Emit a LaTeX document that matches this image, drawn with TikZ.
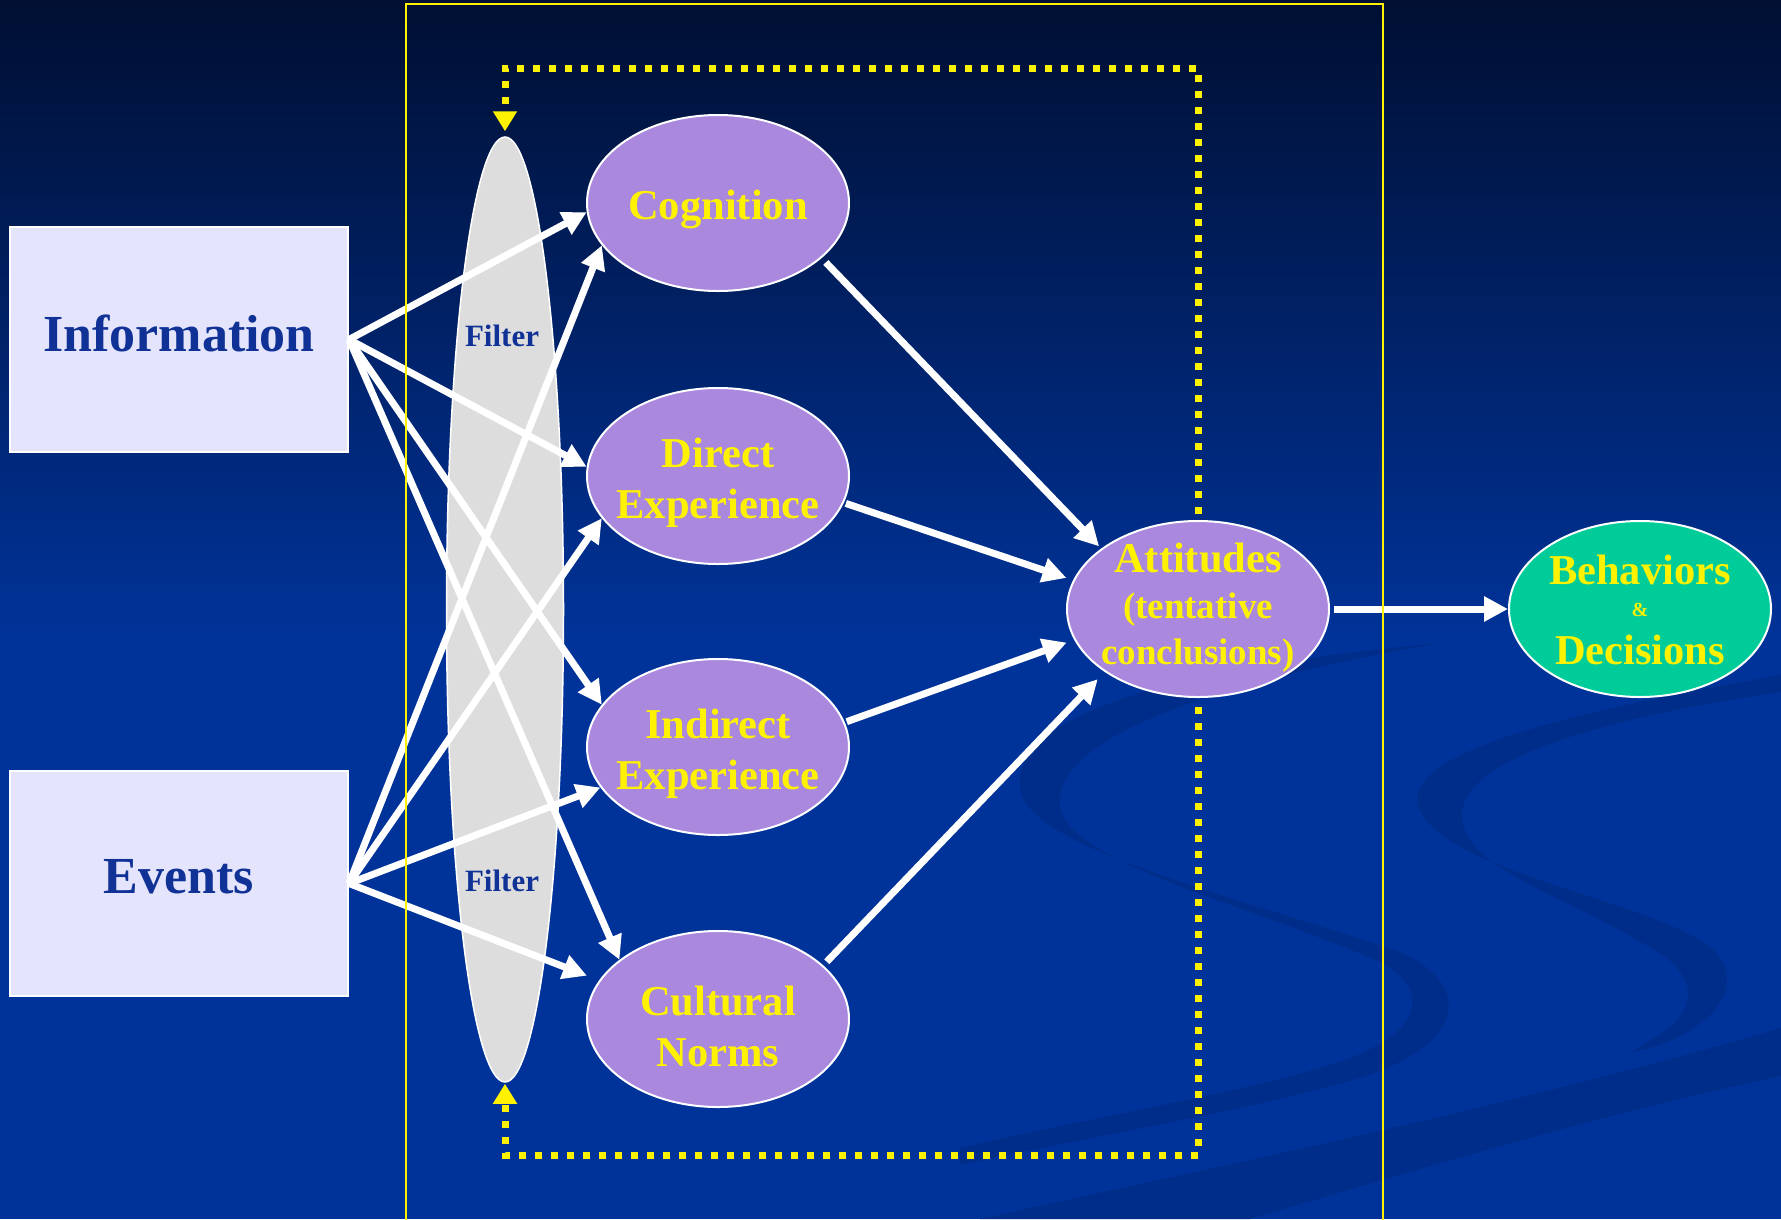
\documentclass[tikz,border=0pt]{standalone}
\usepackage{fontspec}
\setmainfont{Liberation Serif}
\usetikzlibrary{arrows.meta,shapes.geometric}

\definecolor{bgtop}{RGB}{0,15,50}
\definecolor{bgmain}{RGB}{0,51,153}
\definecolor{swirlblue}{RGB}{0,45,138}
\definecolor{lavender}{RGB}{228,228,252}
\definecolor{inkblue}{RGB}{16,50,150}
\definecolor{lilac}{RGB}{169,136,222}
\definecolor{mint}{RGB}{0,204,153}
\definecolor{filtergray}{RGB}{221,221,221}

\begin{document}
\begin{tikzpicture}[x=1pt,y=-1pt,
  srcbox/.style={rectangle, fill=lavender, draw=white, line width=2pt,
    minimum width=338pt, minimum height=225pt, inner sep=0pt},
  srctext/.style={text=inkblue, inner sep=0pt, font=\bfseries\fontsize{52}{60}\selectfont},
  stage/.style={ellipse, fill=lilac, draw=white, line width=2pt,
    minimum width=262pt, minimum height=176pt, inner sep=0pt},
  stagetext/.style={text=yellow, align=center, inner sep=0pt,
    font=\bfseries\fontsize{42.5}{51}\selectfont},
  filtertext/.style={text=inkblue, inner sep=0pt, font=\bfseries\fontsize{31}{36}\selectfont},
  flow/.style={draw=white, line width=7pt, -{Triangle[length=24pt,width=24pt]}},
  feedback/.style={draw=yellow, line width=7pt, dash pattern=on 7pt off 9pt,
    -{Triangle[length=20pt,width=23pt]}},
]
\useasboundingbox (0,0) rectangle (1781,1219);

% background
\fill[bgmain] (0,0) rectangle (1781,1219);
\shade[top color=bgtop, bottom color=bgmain] (0,0) rectangle (1781,640);

% faint swirls of the backdrop
\fill[swirlblue] (1440,643) .. controls (1150,670) and (1010,720) .. (1020,790)
  .. controls (1030,850) and (1250,900) .. (1400,952)
  .. controls (1475,985) and (1465,1045) .. (1360,1078)
  .. controls (1250,1110) and (1100,1135) .. (960,1165)
  -- (960,1148) .. controls (1100,1115) and (1250,1092) .. (1345,1060)
  .. controls (1425,1030) and (1430,990) .. (1380,962)
  .. controls (1250,905) and (1065,862) .. (1060,805)
  .. controls (1055,740) and (1200,685) .. (1440,643) -- cycle;
\fill[swirlblue] (1781,675) .. controls (1550,715) and (1405,755) .. (1418,805)
  .. controls (1435,870) and (1650,900) .. (1712,948)
  .. controls (1755,990) and (1700,1040) .. (1632,1052)
  -- (1650,1040) .. controls (1690,1020) and (1705,985) .. (1662,955)
  .. controls (1560,890) and (1460,870) .. (1462,812)
  .. controls (1465,760) and (1600,718) .. (1781,692) -- cycle;
\fill[swirlblue] (1781,1028) .. controls (1500,1110) and (1200,1170) .. (980,1219)
  -- (1250,1219) .. controls (1450,1160) and (1600,1115) .. (1781,1076) -- cycle;

% source boxes
\node[srcbox] (info) at (179,339.5) {};
\node[srctext] (infoText) at (179,333) {Information};
\node[srcbox] (events) at (179,883.5) {};
\node[srctext] (eventsText) at (179,877) {Events};

% perception filter
\node[ellipse, fill=filtergray, draw=white, line width=1.5pt,
  minimum width=117pt, minimum height=945pt, inner sep=0pt] (filter) at (505,609.5) {};
\node[filtertext] (filterTop) at (502,336) {Filter};
\node[filtertext] (filterBottom) at (502,881) {Filter};

% stages
\node[stage] (cog) at (718,203) {};
\node[stagetext] (cogText) at (718,209) {Cognition};
\node[stage] (dir) at (718,476) {};
\node[stagetext] (dirText) at (718,483) {Direct\\Experience};
\node[stage] (ind) at (718,747) {};
\node[stagetext] (indText) at (718,754) {Indirect\\Experience};
\node[stage] (cult) at (718,1019) {};
\node[stagetext] (cultText) at (718,1026) {Cultural\\Norms};
\node[stage] (att) at (1198,609) {};
\node[stagetext, font=\bfseries\fontsize{37}{46}\selectfont] (attText) at (1198,608)
  {{\fontsize{42.5}{46}\selectfont Attitudes}\\(tentative\\conclusions)};
\node[stage, fill=mint] (beh) at (1640,609) {};
\node[stagetext] (behText) at (1640,610)
  {Behaviors\\[-19pt]{\fontsize{20}{20}\selectfont\&}\\[-3pt]Decisions};

% inputs through the filter
\draw[flow] (info.east) -- (cog.184);
\draw[flow] (info.east) -- (dir.176);
\draw[flow] (info.east) -- (ind.160);
\draw[flow] (info.east) -- (cult.149);
\draw[flow] (events.east) -- (cog.200);
\draw[flow] (events.east) -- (dir.200);
\draw[flow] (events.east) -- (ind.199);
\draw[flow, shorten >=13pt] (events.east) -- (cult.162);

% stages feeding attitudes
\draw[flow, shorten <=6pt, shorten >=3pt] (cog.332) -- (att.148);
\draw[flow, shorten <=2pt, shorten >=7pt] (dir.348) -- (att.167);
\draw[flow, shorten <=2pt, shorten >=8pt] (ind.11) -- (att.194);
\draw[flow, shorten <=5pt, shorten >=10pt] (cult.27) -- (att.214);
\draw[flow, shorten <=4pt] (att.east) -- (beh.west);

% feedback loops to the filter
\coordinate (loopTop) at (0,68);
\coordinate (loopBottom) at (0,1155);
\draw[feedback, shorten <=6pt, shorten >=5pt]
  (att.north) -- (att.north |- loopTop) -- (filter.north |- loopTop) -- (filter.north);
\draw[feedback, shorten <=9pt, shorten >=1pt]
  (att.south) -- (att.south |- loopBottom) -- (filter.south |- loopBottom) -- (filter.south);

% frame
\draw[yellow, line width=2pt] (406,4) rectangle (1383,1240);
\end{tikzpicture}
\end{document}
